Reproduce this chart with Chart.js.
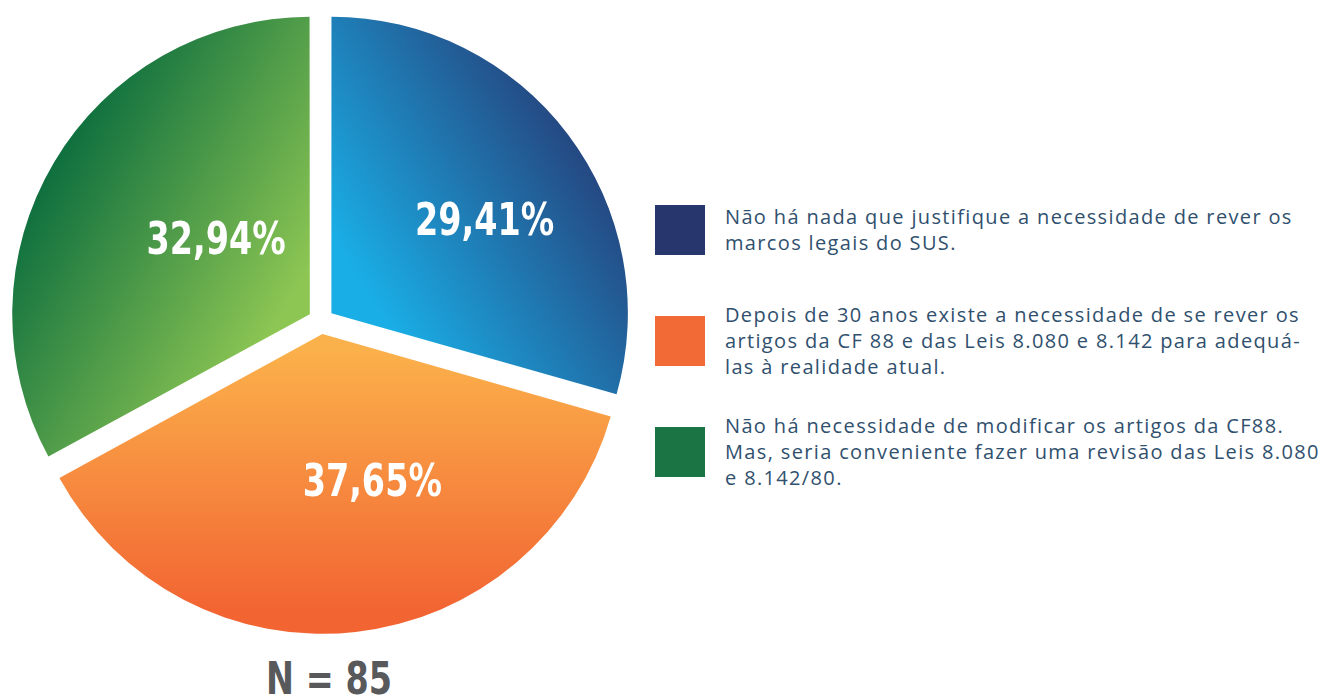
<!DOCTYPE html>
<html>
<head>
<meta charset="utf-8">
<script src="https://cdn.jsdelivr.net/npm/chart.js@4"></script>
<style>
  body { margin: 0; background: #fff; width: 1320px; height: 697px; overflow: hidden; position: relative; }
  #wrap { position: absolute; left: 0; top: 0; width: 642px; height: 642px; }
  #legend { position: absolute; left: 655px; top: 174px; }
  .item { display: flex; align-items: center; height: 111px; }
  .box { width: 50px; height: 50px; margin-right: 20px; flex: none; }
  .txt { font-family: "Open Sans", sans-serif; font-weight: 400; font-size: 20px; line-height: 26px;
         color: #30506e; white-space: nowrap; letter-spacing: 1.35px; }
  #total { position: absolute; left: 0; width: 658px; top: 653px; text-align: center;
           font: bold 44px "DejaVu Sans"; color: #58595b; transform: scaleX(0.76); }
</style>
</head>
<body>
<div id="wrap"><canvas id="pie"></canvas></div>
<div id="legend"></div>
<div id="total">N = 85</div>

<script>
// data
const answers = [
  ["Não há nada que justifique a necessidade de rever os", "marcos legais do SUS."],
  ["Depois de 30 anos existe a necessidade de se rever os", "artigos da CF 88 e das Leis 8.080 e 8.142 para adequá-", "las à realidade atual."],
  ["Não há necessidade de modificar os artigos da CF88.", "Mas, seria conveniente fazer uma revisão das Leis 8.080", "e 8.142/80."]
];
const percents = [29.41, 37.65, 32.94];
const respondents = 85;

// colours: legend swatch + gradient ends
const swatch = ["#27366c", "#f26a36", "#1b7444"];
const gradFrom = ["#1aaee6", "#fbb14b", "#05693d"];
const gradTo = ["#27316b", "#f26432", "#8dc653"];
// gradient direction per slice, as fractions of radius from the centre
const gradVec = [
  [0.1, -0.1, 1.0, -0.67],
  [0, 0.05, 0, 0.94],
  [-0.91, -0.57, -0.05, -0.07]
];
// label placement: fraction of radius, angle nudge (deg)
const labelDist = [0.65, 0.565, 0.45];
const labelShift = [5.3, -11.5, 7.3];

function sliceFill(c) {
  const chart = c.chart;
  const area = chart.chartArea;
  const i = c.dataIndex;
  if (!area) return swatch[i];
  const cx = (area.left + area.right) / 2;
  const cy = (area.top + area.bottom) / 2;
  const r = 296;
  const v = gradVec[i];
  const g = chart.ctx.createLinearGradient(cx + v[0] * r, cy + v[1] * r, cx + v[2] * r, cy + v[3] * r);
  g.addColorStop(0, gradFrom[i]);
  g.addColorStop(1, gradTo[i]);
  return g;
}

const sliceLabels = {
  id: "sliceLabels",
  afterDatasetsDraw(chart) {
    const ctx = chart.ctx;
    const meta = chart.getDatasetMeta(0);
    meta.data.forEach((arc, i) => {
      const a = (arc.startAngle + arc.endAngle) / 2 + labelShift[i] * Math.PI / 180;
      const d = arc.outerRadius * labelDist[i];
      const txt = percents[i].toFixed(2).replace(".", ",") + "%";
      ctx.save();
      ctx.translate(arc.x + Math.cos(a) * d, arc.y + Math.sin(a) * d + 4);
      ctx.scale(0.76, 1); // condensed look
      ctx.font = 'bold 44px "DejaVu Sans"';
      ctx.fillStyle = "#fff";
      ctx.textAlign = "center";
      ctx.textBaseline = "middle";
      ctx.fillText(txt, 0, 0);
      ctx.restore();
    });
  }
};

const chart = new Chart(document.getElementById("pie"), {
  type: "pie",
  data: {
    labels: answers,
    datasets: [{
      data: percents,
      backgroundColor: sliceFill,
      borderWidth: 0,
      offset: 52,
      hoverOffset: 52
    }]
  },
  options: {
    responsive: true,
    maintainAspectRatio: false,
    animation: false,
    events: [],
    radius: 296,
    layout: { padding: 0 },
    plugins: { legend: { display: false }, tooltip: { enabled: false } }
  },
  plugins: [sliceLabels]
});

// legend
const legend = document.getElementById("legend");
chart.data.labels.forEach((lines, i) => {
  const item = document.createElement("div");
  item.className = "item";
  item.innerHTML = `<div class="box" style="background:${swatch[i]}"></div>
    <div class="txt">${lines.join("<br>")}</div>`;
  legend.appendChild(item);
});
document.getElementById("total").textContent = "N = " + respondents;
</script>
</body>
</html>
